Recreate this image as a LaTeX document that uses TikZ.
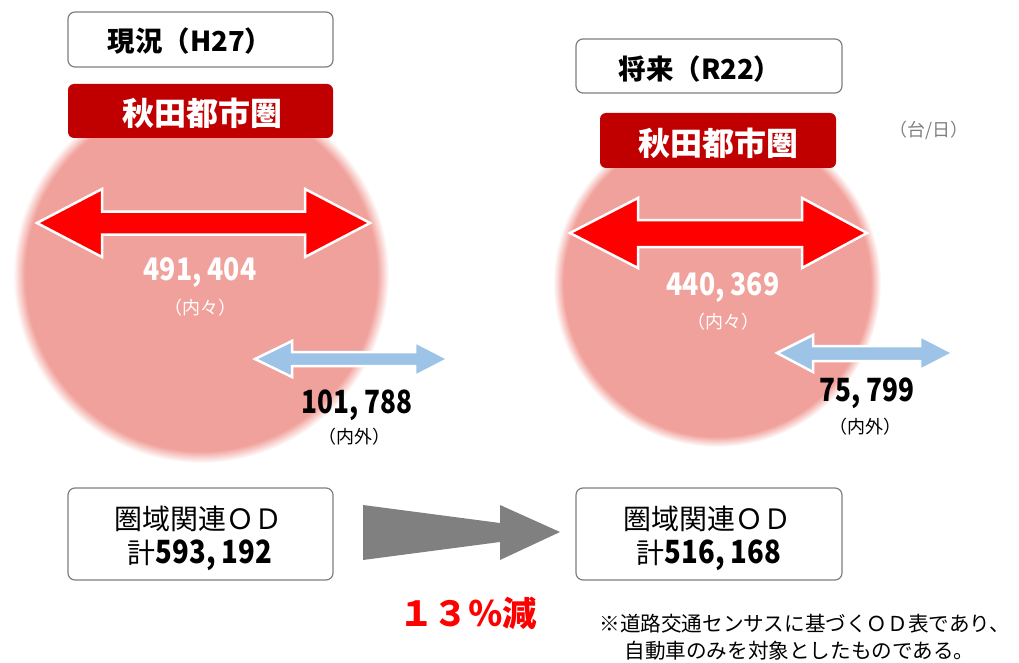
\documentclass[tikz,border=0pt]{standalone}
\usepackage{fontspec}
\usepackage{graphicx}
\setmainfont{Noto Sans CJK JP}
\definecolor{pinkc}{HTML}{F1A19B}
\definecolor{bannerred}{HTML}{C00000}
\definecolor{arrowred}{HTML}{FF0000}
\definecolor{arrowblue}{HTML}{9DC3E6}
\definecolor{boxgray}{HTML}{7F7F7F}
\definecolor{darrow}{HTML}{808080}
\pgfdeclareradialshading{blurpink}{\pgfpoint{0bp}{0bp}}{color(0bp)=(pinkc); color(23.4bp)=(pinkc); color(25bp)=(white); color(50bp)=(white)}
\newcommand\cond[1]{\scalebox{0.82}[1]{#1}}
\newcommand\condb[1]{\scalebox{0.86}[1]{#1}}
\tikzset{
  titlebox/.style={draw=boxgray, line width=1.2pt, fill=white, rounded corners=7pt},
  bannerbox/.style={fill=bannerred, rounded corners=6pt},
  titletxt/.style={font=\fontsize{27.5}{30}\selectfont\bfseries, text=black},
  bannertxt/.style={font=\fontsize{32}{34}\selectfont\bfseries, text=white},
  bignum/.style={font=\fontsize{31}{34}\selectfont\bfseries, text=white},
  smalltxt/.style={font=\fontsize{18}{20}\selectfont},
  outnum/.style={font=\fontsize{32}{35}\selectfont\bfseries, text=black},
  odtxt/.style={font=\fontsize{28}{30}\selectfont, text=black},
  redarrow/.style={fill=arrowred, draw=white, line width=2.5pt, line join=miter},
  bluearrow/.style={fill=arrowblue, draw=white, line width=2.5pt, line join=miter},
  grayarrow/.style={fill=darrow},
  note/.style={font=\fontsize{20.6}{24}\selectfont, text=black, anchor=west}
}
\begin{document}
\begin{tikzpicture}[x=1pt,y=-1pt]
\useasboundingbox (0,0) rectangle (1019,663);
% blurred disks
\shade[shading=blurpink] (201,275) circle[radius=188pt];
\shade[shading=blurpink] (717,283) circle[radius=164pt];
% title boxes
\draw[titlebox] (68,12) rectangle (333,67);
\node[titletxt] (tl) at (190,41) {現況（H27）};
\draw[titlebox] (576,39) rectangle (842,93);
\node[titletxt] (tr) at (700,69) {将来（R22）};
% banners
\fill[bannerbox] (68,84) rectangle (333,138);
\node[bannertxt] (bl) at (202,113) {秋田都市圏};
\fill[bannerbox] (600,113) rectangle (836,168);
\node[bannertxt] (br) at (718,143) {秋田都市圏};
\node[font=\fontsize{18}{20}\selectfont, text=darrow] (unit) at (929,130) {（台/日）};
% red double arrows
\draw[redarrow] (37,223) -- (102,189) -- (102,211.5) -- (305,211.5) -- (305,189) -- (370,223) -- (305,257) -- (305,234.5) -- (102,234.5) -- (102,257) -- cycle;
\draw[redarrow] (570,233) -- (638,198) -- (638,220) -- (802,220) -- (802,198) -- (867,233) -- (802,268) -- (802,247) -- (638,247) -- (638,268) -- cycle;
% blue double arrows
\draw[bluearrow] (255,359) -- (292,341) -- (292,352) -- (415,352) -- (415,342) -- (448,359) -- (415,376) -- (415,366) -- (292,366) -- (292,377) -- cycle;
\draw[bluearrow] (777,353) -- (813,335) -- (813,346) -- (920,346) -- (920,336) -- (953,353) -- (920,370) -- (920,361) -- (813,361) -- (813,372) -- cycle;
% inner numbers
\node[bignum] (n1) at (200,273) {\condb{491, 404}};
\node[smalltxt, text=white] (n1l) at (200,308) {（内々）};
\node[bignum] (n2) at (723,288) {\condb{440, 369}};
\node[smalltxt, text=white] (n2l) at (723,322) {（内々）};
% outer numbers
\node[outnum] (o1) at (357,405) {\cond{101, 788}};
\node[smalltxt, text=black] (o1l) at (354,437) {（内外）};
\node[outnum] (o2) at (867,393) {\cond{75, 799}};
\node[smalltxt, text=black] (o2l) at (865,427) {（内外）};
% bottom boxes
\draw[titlebox] (68,488) rectangle (333,580);
\node[odtxt] (b1a) at (198,519) {圏域関連ＯＤ};
\node[odtxt] (b1b) at (200,555) {計\condb{\fontsize{32}{34}\selectfont\bfseries 593, 192}};
\draw[titlebox] (576,488) rectangle (842,580);
\node[odtxt] (b2a) at (707,519) {圏域関連ＯＤ};
\node[odtxt] (b2b) at (709,555) {計\condb{\fontsize{32}{34}\selectfont\bfseries 516, 168}};
% gray arrow
\fill[grayarrow] (363,505) -- (500,523) -- (500,505) -- (560,532) -- (500,560) -- (500,542) -- (363,560) -- cycle;
\node[font=\fontsize{34.5}{36}\selectfont\bfseries, text=arrowred] (pct) at (468,613) {１３％減};
% footnote
\node[note] (f1) at (596,624) {※道路交通センサスに基づくＯＤ表であり、};
\node[note] (f2) at (621,651) {自動車のみを対象としたものである。};
\end{tikzpicture}
\end{document}
